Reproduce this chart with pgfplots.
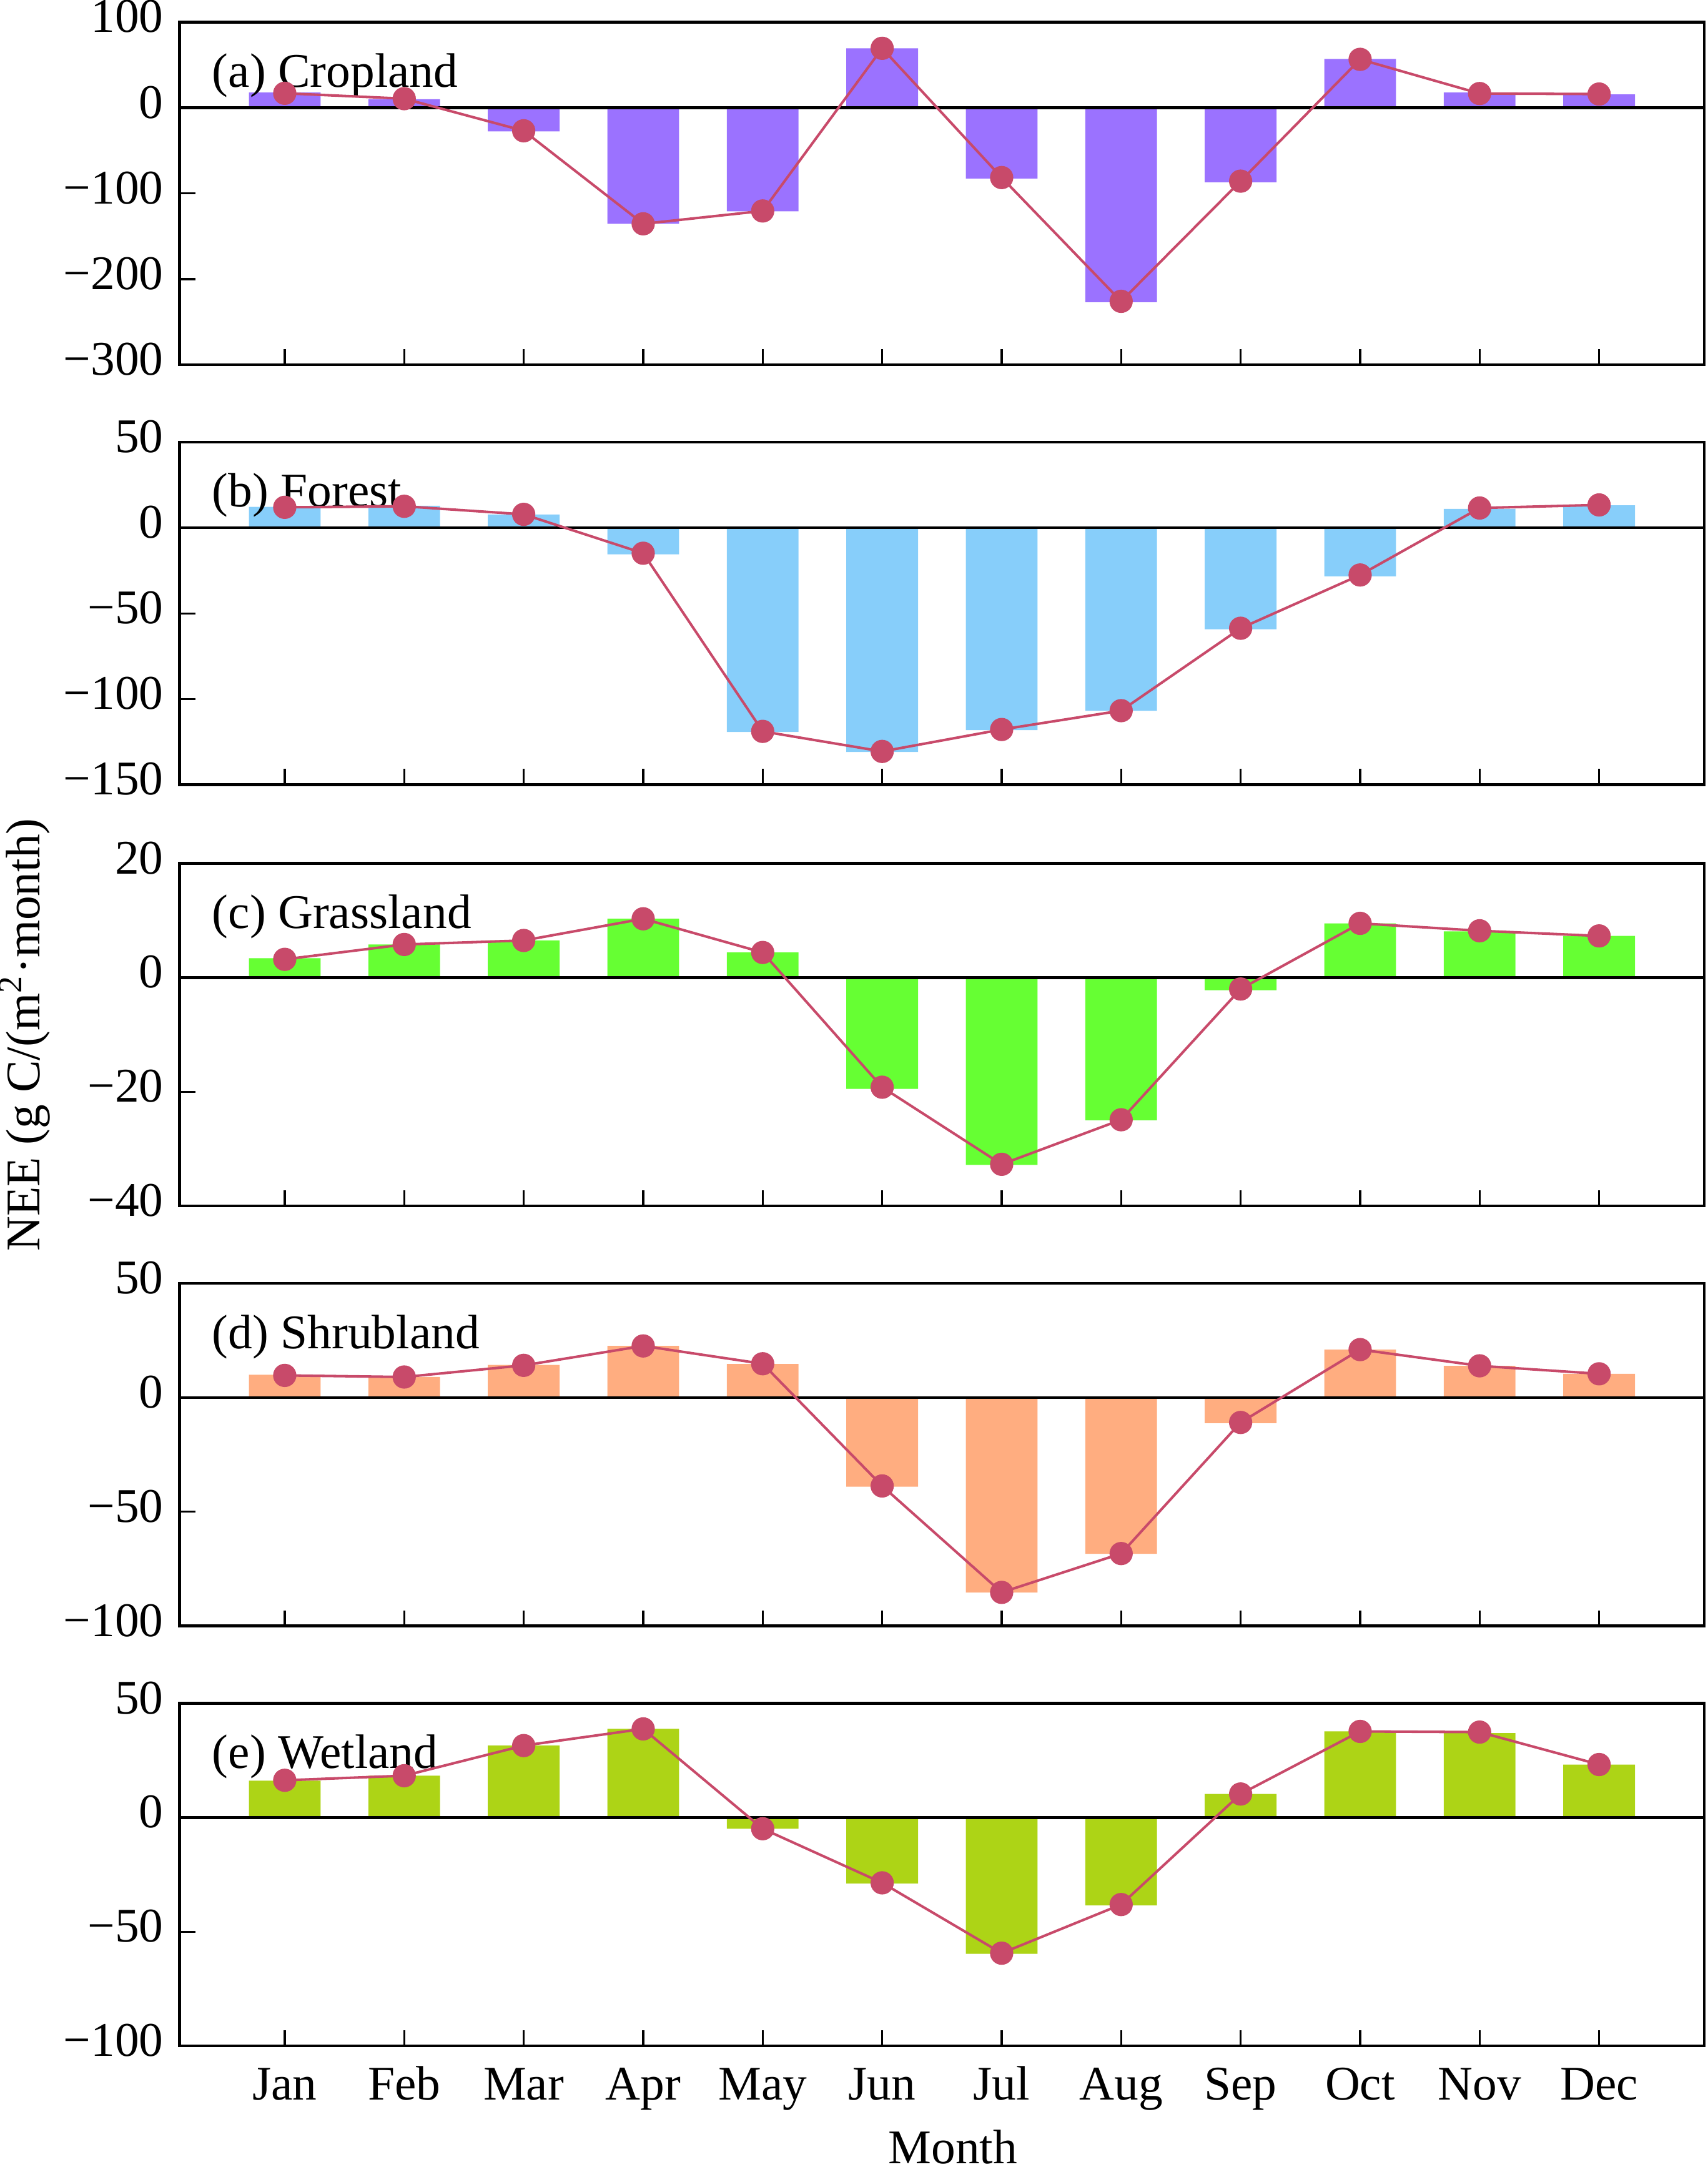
\documentclass[border=0pt]{standalone}
\usepackage{fontspec}
\setmainfont{Liberation Serif}
\usepackage{pgfplots}
\pgfplotsset{compat=1.18}

\definecolor{cropc}{RGB}{155,114,255}
\definecolor{forc}{RGB}{135,206,250}
\definecolor{grassc}{RGB}{102,255,51}
\definecolor{shrubc}{RGB}{255,173,128}
\definecolor{wetc}{RGB}{173,212,22}
\definecolor{linec}{RGB}{200,74,106}

\pgfplotsset{
  panel/.style={
    scale only axis,
    width=331.1pt, height=74.4pt,
    anchor=north west,
    xmin=0.12, xmax=12.88,
    xtick={1,...,12},
    xticklabels={},
    tick align=inside,
    tick pos=left,
    axis line style={line width=0.6pt},
    major tick length=3.4pt,
    every tick/.style={black, line width=0.45pt},
    tick label style={font=\fontsize{10.5}{12.6}\selectfont},
    label style={font=\fontsize{10.5}{12.6}\selectfont},
    yticklabel style={yshift=1.2pt},
    clip=false,
  },
  barsty/.style={ybar, bar width=0.6, draw=none, fill=#1},
  linesty/.style={color=linec, line width=0.55pt, mark=*, mark size=2.25pt,
    mark options={fill=linec, draw=linec}},
}
\newcommand{\zeroline}{\draw[line width=0.6pt] (axis cs:0.12,0) -- (axis cs:12.88,0);}
\newcommand{\plabel}[1]{\node[anchor=base west, font=\fontsize{10.5}{12.6}\selectfont, inner sep=0pt] at ([xshift=6.9pt,yshift=-14.1pt]rel axis cs:0,1) {#1};}
\newcommand{\tl}[1]{\mbox{#1}}

\begin{document}
\begin{tikzpicture}
% (a) Cropland
\begin{axis}[panel, at={(0pt,0pt)},
  ymin=-300, ymax=100, ytick={-300,-200,-100,0,100},
  yticklabels={\tl{−300},\tl{−200},\tl{−100},\tl{0},\tl{100}}]
\addplot[barsty=cropc] coordinates {(1,17.8) (2,10) (3,-27.5) (4,-135.5) (5,-121) (6,69.4) (7,-82.7) (8,-227) (9,-87) (10,57) (11,17.8) (12,15.7)};
\plabel{(a) Cropland}
\zeroline
\addplot[linesty] coordinates {(1,16.9) (2,10.6) (3,-26.9) (4,-135.5) (5,-120.5) (6,69.4) (7,-81.5) (8,-226) (9,-85.7) (10,56.5) (11,16.6) (12,16.0)};
\end{axis}
% (b) Forest
\begin{axis}[panel, at={(0pt,-91.2pt)},
  ymin=-150, ymax=50, ytick={-150,-100,-50,0,50},
  yticklabels={\tl{−150},\tl{−100},\tl{−50},\tl{0},\tl{50}}]
\addplot[barsty=forc] coordinates {(1,12.2) (2,12.8) (3,7.7) (4,-15.5) (5,-119.3) (6,-130.9) (7,-118.2) (8,-106.9) (9,-59.3) (10,-28.4) (11,11.0) (12,13.1)};
\plabel{(b) Forest}
\zeroline
\addplot[linesty] coordinates {(1,11.9) (2,12.5) (3,7.8) (4,-14.9) (5,-118.9) (6,-130.6) (7,-117.8) (8,-106.8) (9,-58.7) (10,-27.6) (11,11.5) (12,13.3)};
\end{axis}
% (c) Grassland
\begin{axis}[panel, at={(0pt,-182.7pt)},
  ymin=-40, ymax=20, ytick={-40,-20,0,20},
  yticklabels={\tl{−40},\tl{−20},\tl{0},\tl{20}},
  ylabel={NEE (g C/(m\textsuperscript{2}·month)},
  ylabel style={at={(axis description cs:-0.1015,0.5)}, anchor=center}]
\addplot[barsty=grassc] coordinates {(1,3.4) (2,5.8) (3,6.5) (4,10.3) (5,4.4) (6,-19.5) (7,-32.8) (8,-25.0) (9,-2.2) (10,9.5) (11,8.1) (12,7.3)};
\plabel{(c) Grassland}
\zeroline
\addplot[linesty] coordinates {(1,3.2) (2,5.8) (3,6.5) (4,10.3) (5,4.4) (6,-19.2) (7,-32.7) (8,-24.9) (9,-2.0) (10,9.5) (11,8.2) (12,7.3)};
\end{axis}
% (d) Shrubland
\begin{axis}[panel, at={(0pt,-273.9pt)},
  ymin=-100, ymax=50, ytick={-100,-50,0,50},
  yticklabels={\tl{−100},\tl{−50},\tl{0},\tl{50}}]
\addplot[barsty=shrubc] coordinates {(1,10.0) (2,9.0) (3,14.3) (4,22.6) (5,14.7) (6,-39.0) (7,-85.4) (8,-68.4) (9,-11.2) (10,21.0) (11,13.9) (12,10.4)};
\plabel{(d) Shrubland}
\zeroline
\addplot[linesty] coordinates {(1,9.7) (2,9.0) (3,14.1) (4,22.6) (5,14.8) (6,-38.7) (7,-85.3) (8,-68.3) (9,-10.9) (10,21.0) (11,13.9) (12,10.4)};
\end{axis}
% (e) Wetland
\begin{axis}[panel, at={(0pt,-365.1pt)},
  ymin=-100, ymax=50, ytick={-100,-50,0,50},
  yticklabels={\tl{−100},\tl{−50},\tl{0},\tl{50}},
  xticklabels={Jan,Feb,Mar,Apr,May,Jun,Jul,Aug,Sep,Oct,Nov,Dec},
  xticklabel style={anchor=base, yshift=-11.7pt},
  xlabel={Month},
  xlabel style={at={(axis description cs:0.5,0)}, anchor=base, yshift=-25.5pt, xshift=2.4pt, inner sep=0pt}]
\addplot[barsty=wetc] coordinates {(1,16.1) (2,18.3) (3,31.5) (4,38.8) (5,-4.9) (6,-28.9) (7,-59.7) (8,-38.5) (9,10.3) (10,37.7) (11,37.0) (12,23.2)};
\plabel{(e) Wetland}
\zeroline
\addplot[linesty] coordinates {(1,16.3) (2,18.3) (3,31.5) (4,38.8) (5,-4.9) (6,-28.6) (7,-59.4) (8,-38.1) (9,10.3) (10,37.7) (11,37.4) (12,23.2)};
\end{axis}
\pgfresetboundingbox
\path[use as bounding box] (-39pt,4.8pt) rectangle (331.8pt,-465.8pt);
\end{tikzpicture}
\end{document}
